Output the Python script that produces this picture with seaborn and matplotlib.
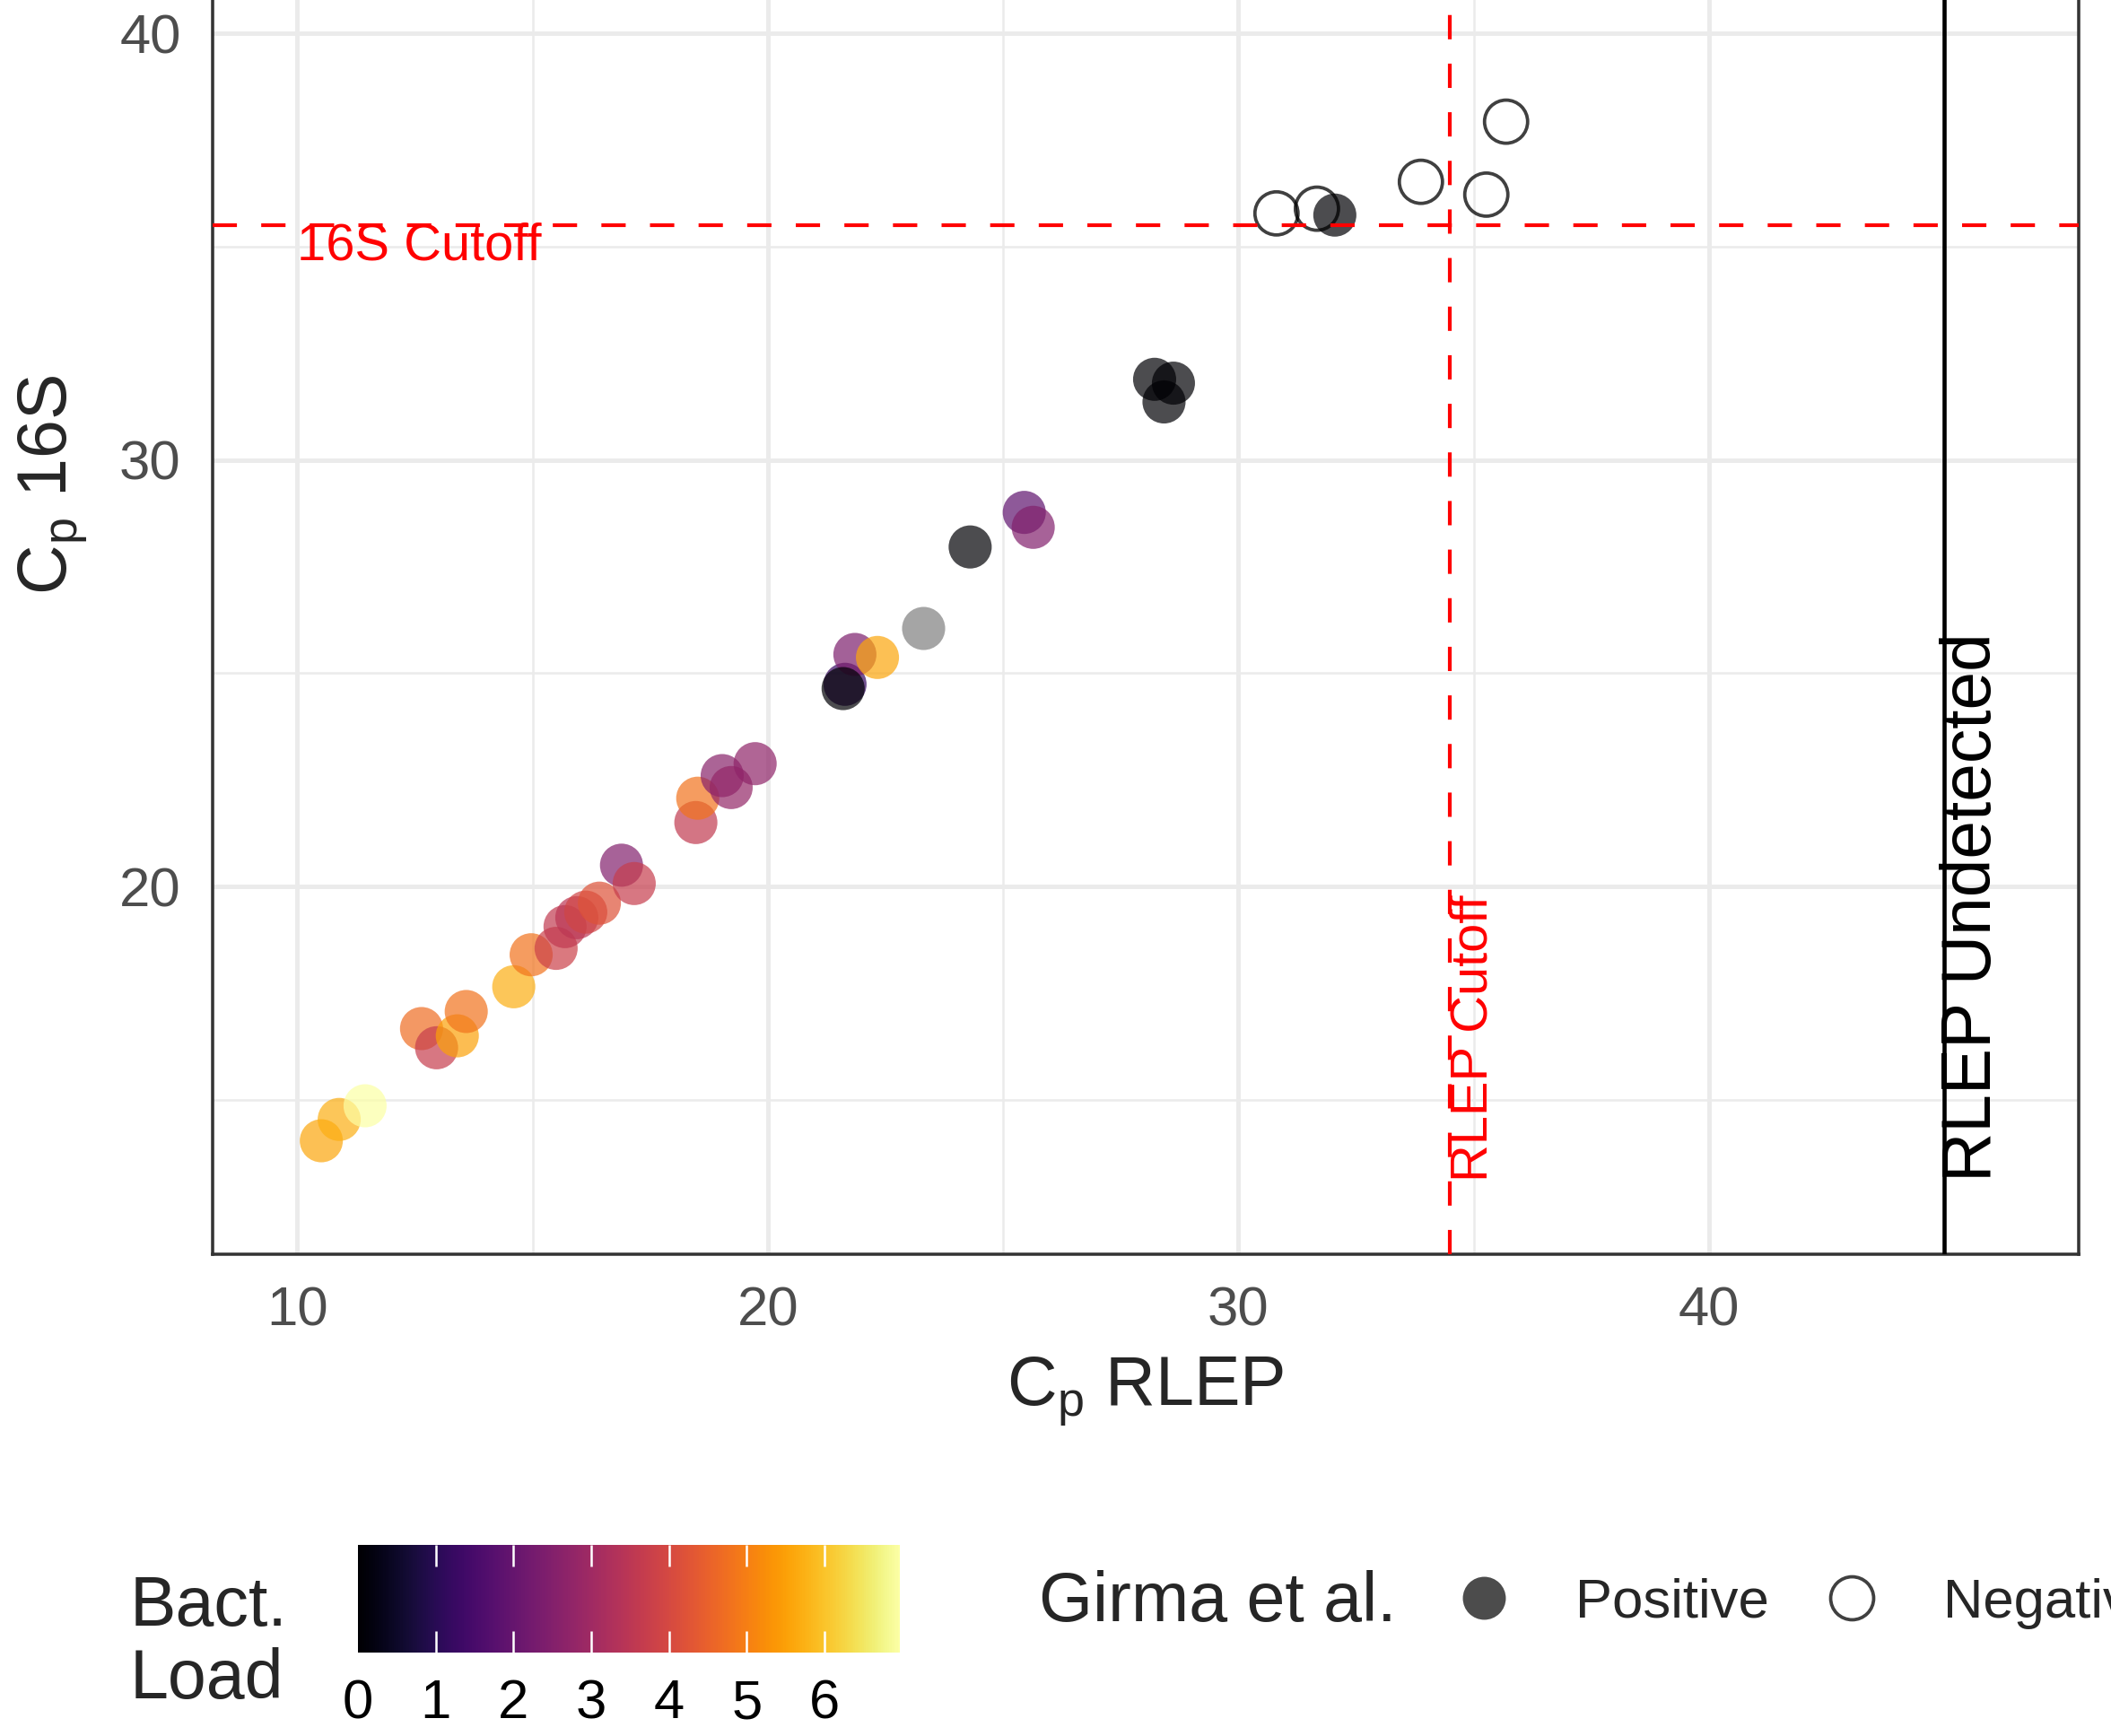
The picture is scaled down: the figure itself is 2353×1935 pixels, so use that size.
import numpy as np
import pandas as pd
import matplotlib
matplotlib.use("Agg")
import matplotlib.pyplot as plt
import seaborn as sns
from matplotlib.lines import Line2D
from matplotlib.colors import Normalize
from matplotlib.cm import ScalarMappable

# ---- data ----
# Girma positive, coloured by bacterial load
rlep_pos = [10.51, 10.89, 11.44, 12.64, 12.96, 13.40, 13.59, 14.60, 14.97, 15.50,
            15.69, 15.94, 16.13, 16.42, 16.89, 17.16, 18.47, 18.51, 19.03, 19.22,
            19.73, 21.64, 21.85, 22.33, 25.45, 25.64]
s16_pos = [14.04, 14.54, 14.86, 16.67, 16.22, 16.50, 17.07, 17.65, 18.40, 18.55,
           19.06, 19.27, 19.40, 19.61, 20.50, 20.07, 21.50, 22.07, 22.60, 22.32,
           22.88, 24.74, 25.44, 25.37, 28.77, 28.42]
load_pos = [5.6, 5.7, 6.97, 4.7, 3.7, 5.5, 4.8, 5.7, 4.8, 3.8,
            3.6, 3.5, 3.9, 4.2, 2.5, 3.7, 3.6, 4.8, 2.6, 2.8,
            2.7, 1.2, 2.4, 5.6, 1.9, 2.5]
# Girma positive with load 0
rlep_zero = [21.60, 24.30, 28.22, 28.62, 28.42, 32.05]
s16_zero = [24.64, 27.96, 31.89, 31.80, 31.36, 35.74]
# Girma positive with missing load
rlep_na = [23.30]
s16_na = [26.07]
# Girma negative
rlep_neg = [30.81, 31.67, 33.88, 35.27, 35.69]
s16_neg = [35.78, 35.89, 36.52, 36.22, 37.93]

cut_16s = 35.5
cut_rlep = 34.5
rlep_undetected = 45
load_max = 6.97
x_ticks = [10, 20, 30, 40]
y_ticks = [20, 30, 40]
cbar_ticks = [0, 1, 2, 3, 4, 5, 6]

df_pos = pd.DataFrame({"rlep": rlep_pos + rlep_zero,
                       "s16": s16_pos + s16_zero,
                       "load": load_pos + [0.0] * len(rlep_zero)})
df_na = pd.DataFrame({"rlep": rlep_na, "s16": s16_na})
df_neg = pd.DataFrame({"rlep": rlep_neg, "s16": s16_neg})

# ---- style ----
sns.set_style("white")
plt.rcParams["font.family"] = ["Liberation Sans", "DejaVu Sans"]
plt.rcParams["mathtext.fontset"] = "custom"
plt.rcParams["mathtext.rm"] = "Liberation Sans"
plt.rcParams["mathtext.it"] = "Liberation Sans:italic"

W, H, DPI = 2353, 1935, 300
fig = plt.figure(figsize=(W / DPI, H / DPI), dpi=DPI)
fig.patch.set_facecolor("white")
ax = fig.add_axes([237 / W, 1 - 1398 / H, (2317 - 237) / W, 1716 / H])
ax.set_xlim(8.2, 47.86)
ax.set_ylim(11.38, 47.47)

ax.set_xticks(x_ticks)
ax.set_yticks(y_ticks)
ax.set_xticks([15, 25, 35, 45], minor=True)
ax.set_yticks([15, 25, 35, 45], minor=True)
ax.grid(which="major", color="#EBEBEB", lw=1.2)
ax.grid(which="minor", color="#EBEBEB", lw=0.6)
ax.set_axisbelow(True)
ax.tick_params(which="minor", length=0)
ax.tick_params(which="major", length=4.8, width=0.85, color="#333333",
               labelsize=14.8, labelcolor="#4D4D4D", pad=3.7)
for sp in ax.spines.values():
    sp.set_color("#333333")
    sp.set_linewidth(0.85)

S = 133
sns.scatterplot(data=df_pos, x="rlep", y="s16", hue="load", palette="inferno",
                hue_norm=(0, load_max), s=S, alpha=0.7, linewidth=0,
                legend=False, ax=ax, zorder=3)
sns.scatterplot(data=df_na, x="rlep", y="s16", color="#7F7F7F", s=S, alpha=0.7,
                linewidth=0, legend=False, ax=ax, zorder=3)
ax.scatter(df_neg["rlep"], df_neg["s16"], s=S, facecolors="none",
           edgecolors=(0, 0, 0, 0.75), linewidths=0.9, zorder=3)

dash = (0, (6.5, 6.5))
ax.axhline(cut_16s, color="red", lw=1.0, ls=dash, zorder=4)
ax.axvline(cut_rlep, color="red", lw=1.0, ls=dash, zorder=4)
ax.axvline(rlep_undetected, color="black", lw=1.1, zorder=4)

ax.text(10, 35.0, "16S Cutoff", color="red", fontsize=13.9, ha="left", va="center", zorder=5)
ax.text(35.0, 13.08, "RLEP Cutoff", color="red", fontsize=13.9, rotation=90,
        ha="center", va="bottom", zorder=5)
ax.text(45.6, 13.08, "RLEP Undetected", color="black", fontsize=18.4, rotation=90,
        ha="center", va="bottom", zorder=5)

ax.set_xlabel(r"$\mathregular{C_p}$ RLEP", fontsize=18.5, labelpad=5)
ax.set_ylabel(r"$\mathregular{C_p}$ 16S", fontsize=18.5, labelpad=8)

# ---- colour bar legend ----
cax = fig.add_axes([399 / W, 1 - 1842 / H, 604 / W, 120 / H])
sm = ScalarMappable(norm=Normalize(0, load_max), cmap="inferno")
cb = fig.colorbar(sm, cax=cax, orientation="horizontal", ticks=cbar_ticks)
cb.outline.set_visible(False)
cax.set_axisbelow(False)
cax.minorticks_off()
cax.tick_params(axis="x", which="major", length=0, labelsize=14.8,
                labelcolor="black", pad=7, labeltop=False, labelbottom=True)
# white tick marks inside the bar, top and bottom (ggplot style)
cax.vlines(cbar_ticks[1:], 0, 0.2, transform=cax.get_xaxis_transform(),
           colors="white", lw=0.6, zorder=5)
cax.vlines(cbar_ticks[1:], 0.8, 1.0, transform=cax.get_xaxis_transform(),
           colors="white", lw=0.6, zorder=5)
fig.text(145 / W, 1 - 1832 / H, "Bact.\nLoad", fontsize=18.5, ha="left",
         va="center", linespacing=1.15)

# ---- Girma legend ----
fig.text(1158 / W, 1 - 1787 / H, "Girma et al.", fontsize=18.5, ha="left", va="center")
handles = [Line2D([], [], marker="o", ls="", markersize=11.5, markerfacecolor="black",
                  markeredgewidth=0, alpha=0.7),
           Line2D([], [], marker="o", ls="", markersize=11.5, markerfacecolor="none",
                  markeredgecolor="black", markeredgewidth=0.9, alpha=0.75)]
fig.legend(handles, ["Positive", "Negative"], loc="center left",
           bbox_to_anchor=(1623 / W, 1 - 1787 / H), ncol=2, frameon=False,
           fontsize=14.8, handlelength=1.0, handletextpad=1.15, columnspacing=1.0,
           borderpad=0, borderaxespad=0)

fig.savefig("out.png", dpi=DPI)
